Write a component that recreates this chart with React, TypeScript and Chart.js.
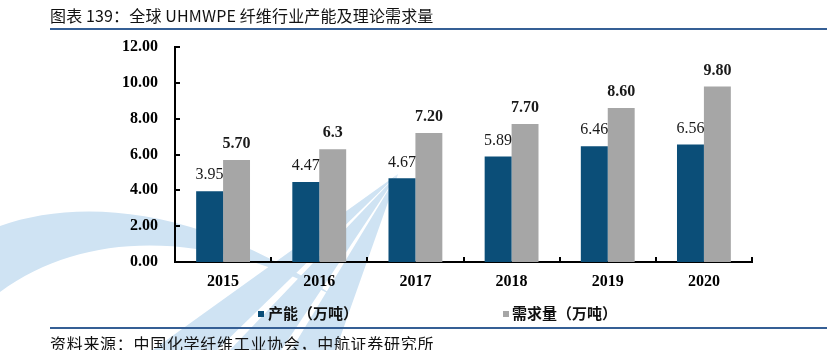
import React, { useEffect, useRef } from "react";
import { Chart, registerables } from "chart.js";

Chart.register(...registerables);

const categories = ["2015", "2016", "2017", "2018", "2019", "2020"];
const capacity = [3.95, 4.47, 4.67, 5.89, 6.46, 6.56];
const demand = [5.7, 6.3, 7.2, 7.7, 8.6, 9.8];
const capacityLabels = ["3.95", "4.47", "4.67", "5.89", "6.46", "6.56"];
const demandLabels = ["5.70", "6.3", "7.20", "7.70", "8.60", "9.80"];
const seriesNames = ["产能（万吨）", "需求量（万吨）"];
const yMin = 0;
const yMax = 12;
const yStep = 2;

const BLUE = "#0b4e78";
const GRAY = "#a6a6a6";
const SERIF = "'Liberation Serif', 'Times New Roman', serif";
const CJK = "'Noto Sans CJK SC', sans-serif";

const watermark = {
  id: "watermark",
  beforeDraw(chart: any) {
    const ctx = chart.ctx;
    ctx.save();
    ctx.fillStyle = "#cfe3f3";
    ctx.beginPath();
    ctx.moveTo(0, 226);
    ctx.bezierCurveTo(80, 198, 200, 205, 340, 300);
    ctx.bezierCurveTo(220, 232, 90, 226, 0, 292);
    ctx.closePath();
    ctx.fill();
    const tip = [398, 174];
    const tris = [
      [150, 215],
      [228, 280],
      [290, 335],
    ];
    tris.forEach(([a, b]) => {
      ctx.beginPath();
      ctx.moveTo(tip[0], tip[1]);
      ctx.lineTo(a, 352);
      ctx.lineTo(b, 352);
      ctx.closePath();
      ctx.fill();
    });
    ctx.restore();
  },
};

const innerTicks = {
  id: "innerTicks",
  afterDraw(chart: any) {
    const ctx = chart.ctx;
    const { left, bottom } = chart.chartArea;
    const ys = chart.scales.y;
    const xs = chart.scales.x;
    ctx.save();
    ctx.strokeStyle = "#000";
    ctx.lineWidth = 2;
    ys.ticks.forEach((_t: any, i: number) => {
      const y = Math.round(ys.getPixelForTick(i));
      ctx.beginPath();
      ctx.moveTo(left, y);
      ctx.lineTo(left + 5, y);
      ctx.stroke();
    });
    for (let i = 1; i <= categories.length; i++) {
      const x = Math.round(xs.getPixelForValue(i - 0.5));
      ctx.beginPath();
      ctx.moveTo(x, bottom);
      ctx.lineTo(x, bottom - 5);
      ctx.stroke();
    }
    ctx.restore();
  },
};

const valueLabels = {
  id: "valueLabels",
  afterDatasetsDraw(chart: any) {
    const ctx = chart.ctx;
    ctx.save();
    ctx.textAlign = "center";
    ctx.textBaseline = "middle";
    const sets = [
      { labels: capacityLabels, font: `16px ${SERIF}` },
      { labels: demandLabels, font: `bold 16px ${SERIF}` },
    ];
    sets.forEach((s, di) => {
      const meta = chart.getDatasetMeta(di);
      ctx.font = s.font;
      ctx.fillStyle = "#1a1a1a";
      meta.data.forEach((el: any, i: number) => {
        ctx.fillText(s.labels[i], el.x, el.y - 16);
      });
    });
    ctx.restore();
  },
};

export default function App() {
  const ref = useRef<HTMLCanvasElement | null>(null);

  useEffect(() => {
    if (!ref.current) return;
    const chart = new Chart(ref.current, {
      type: "bar",
      data: {
        labels: categories,
        datasets: [
          {
            label: seriesNames[0],
            data: capacity,
            backgroundColor: BLUE,
            barPercentage: 1,
            categoryPercentage: 0.56,
          },
          {
            label: seriesNames[1],
            data: demand,
            backgroundColor: GRAY,
            barPercentage: 1,
            categoryPercentage: 0.56,
          },
        ],
      },
      options: {
        animation: false,
        responsive: false,
        maintainAspectRatio: false,
        layout: { padding: { left: 0, right: 86, top: 47, bottom: 0 } },
        plugins: {
          legend: { display: false },
          tooltip: { enabled: false },
          title: { display: false },
        },
        scales: {
          x: {
            grid: { display: false, drawTicks: false },
            border: { display: true, color: "#000", width: 2 },
            ticks: {
              color: "#000",
              padding: 10,
              font: { family: SERIF, size: 16, weight: "bold" },
            },
            afterFit(scale: any) {
              scale.height = 88;
            },
          },
          y: {
            min: yMin,
            max: yMax,
            grid: { display: false, drawTicks: false },
            border: { display: true, color: "#000", width: 2 },
            ticks: {
              stepSize: yStep,
              color: "#000",
              padding: 17,
              font: { family: SERIF, size: 16, weight: "bold" },
              callback: (v: any) => Number(v).toFixed(2),
            },
            afterFit(scale: any) {
              scale.width = 175;
            },
          },
        },
      },
      plugins: [watermark, innerTicks, valueLabels],
    });
    return () => chart.destroy();
  }, []);

  const lineStyle: React.CSSProperties = {
    position: "absolute",
    left: 50,
    width: 777,
    height: 2,
    background: "#355f95",
  };

  return (
    <div style={{ position: "absolute", left: 0, top: 0, width: 838, height: 350, background: "#fff", overflow: "hidden" }}>
      <canvas ref={ref} width={838} height={350} style={{ position: "absolute", left: 0, top: 0, width: 838, height: 350 }} />
      <div style={{ position: "absolute", left: 50, top: 5, height: 21, lineHeight: "21px", fontFamily: CJK, fontSize: 16, color: "#111", whiteSpace: "nowrap", letterSpacing: 0.15 }}>
        图表 139：全球 UHMWPE 纤维行业产能及理论需求量
      </div>
      <div style={{ ...lineStyle, top: 28 }} />
      <div style={{ position: "absolute", left: 258, top: 311, width: 6, height: 6, background: BLUE }} />
      <div style={{ position: "absolute", left: 268, top: 303, height: 20, lineHeight: "20px", fontFamily: CJK, fontSize: 15, fontWeight: 700, color: "#111", whiteSpace: "nowrap" }}>
        {seriesNames[0]}
      </div>
      <div style={{ position: "absolute", left: 503, top: 311, width: 6, height: 6, background: GRAY }} />
      <div style={{ position: "absolute", left: 512, top: 303, height: 20, lineHeight: "20px", fontFamily: CJK, fontSize: 15, fontWeight: 700, color: "#111", whiteSpace: "nowrap" }}>
        {seriesNames[1]}
      </div>
      <div style={{ ...lineStyle, top: 327 }} />
      <div style={{ position: "absolute", left: 50, top: 332, height: 22, lineHeight: "22px", fontFamily: CJK, fontSize: 16, color: "#111", whiteSpace: "nowrap", letterSpacing: 0.7 }}>
        资料来源：中国化学纤维工业协会，中航证券研究所
      </div>
    </div>
  );
}
